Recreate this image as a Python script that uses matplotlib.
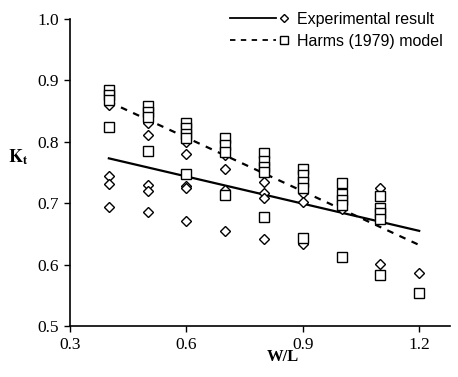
import matplotlib
matplotlib.use("Agg")
import matplotlib.pyplot as plt
from matplotlib.lines import Line2D

# W/L groups and the values
exp_x = [0.4] * 4 + [0.5] * 5 + [0.6] * 5 + [0.7] * 4 + [0.8] * 4 + [0.9] * 3 + [1.0] + [1.1] * 2 + [1.2]
exp_kt = [0.860, 0.744, 0.731, 0.694,
          0.831, 0.811, 0.730, 0.720, 0.686,
          0.800, 0.780, 0.728, 0.724, 0.671,
          0.778, 0.755, 0.721, 0.654,
          0.735, 0.717, 0.708, 0.642,
          0.716, 0.702, 0.634,
          0.690,
          0.724, 0.601,
          0.587]

harms_x = [0.4] * 4 + [0.5] * 4 + [0.6] * 5 + [0.7] * 4 + [0.8] * 5 + [0.9] * 5 + [1.0] * 5 + [1.1] * 5 + [1.2]
harms_kt = [0.884, 0.876, 0.868, 0.824,
            0.858, 0.849, 0.840, 0.785,
            0.831, 0.822, 0.813, 0.806, 0.747,
            0.806, 0.795, 0.784, 0.714,
            0.781, 0.768, 0.759, 0.751, 0.677,
            0.755, 0.746, 0.735, 0.724, 0.644,
            0.733, 0.715, 0.705, 0.697, 0.613,
            0.712, 0.692, 0.684, 0.674, 0.583,
            0.554]

# trend lines (end points)
fit_x = [0.4, 1.2]
exp_fit = [0.773, 0.655]
harms_fit = [0.865, 0.632]

xticks = [0.3, 0.6, 0.9, 1.2]
yticks = [0.5, 0.6, 0.7, 0.8, 0.9, 1.0]


class LineThenMarker:
    def __init__(self, ls, marker, ms):
        self.ls = ls
        self.marker = marker
        self.ms = ms

    def legend_artist(self, legend, orig_handle, fontsize, handlebox):
        x0, y0 = handlebox.xdescent, handlebox.ydescent
        w, h = handlebox.width, handlebox.height
        ln = Line2D([x0, x0 + w * 0.75], [y0 + h / 2] * 2, color="black",
                    ls=self.ls, lw=1.3)
        mk = Line2D([x0 + w * 0.89], [y0 + h / 2], marker=self.marker, ms=self.ms,
                    mfc="none", mec="black", mew=1.0, ls="none")
        handlebox.add_artist(ln)
        handlebox.add_artist(mk)
        return ln


plt.rcParams["mathtext.fontset"] = "stix"
serif = "Liberation Serif"

fig = plt.figure(figsize=(4.58, 3.77), dpi=100)
ax = fig.add_axes([0.153, 0.135, 0.83, 0.815])

ax.plot(exp_x, exp_kt, "D", ms=5.2, mfc="white", mec="black", mew=1.0, ls="none", zorder=3)
ax.plot(harms_x, harms_kt, "s", ms=6.7, mfc="white", mec="black", mew=1.0, ls="none", zorder=3)
h1, = ax.plot(fit_x, exp_fit, color="black", lw=1.6, zorder=2)
h2, = ax.plot(fit_x, harms_fit, color="black", lw=1.6, ls=(0, (3, 3)), zorder=2)

ax.set_xlim(0.3, 1.28)
ax.set_ylim(0.5, 1.0)
ax.set_xticks(xticks)
ax.set_yticks(yticks)
ax.set_xticklabels([f"{v:.1f}" for v in xticks], fontfamily=serif, fontsize=12.5)
ax.set_yticklabels([f"{v:.1f}" for v in yticks], fontfamily=serif, fontsize=12.5)
ax.tick_params(direction="out", length=4, width=1, pad=4)
for s in ["top", "right"]:
    ax.spines[s].set_visible(False)
for s in ["left", "bottom"]:
    ax.spines[s].set_linewidth(1.2)

ax.set_xlabel("W/L", fontfamily=serif, fontweight="bold", fontsize=12, labelpad=0)
ax.xaxis.set_label_coords(0.56, -0.075)
ax.set_ylabel(r"$\mathbf{K_t}$", fontsize=13, rotation=0, va="center", ha="center")
ax.yaxis.set_label_coords(-0.137, 0.55)

leg = fig.legend([h1, h2], ["Experimental result", "Harms (1979) model"],
                 handler_map={h1: LineThenMarker("-", "D", 4.2),
                              h2: LineThenMarker((0, (3, 3)), "s", 5.2)},
                 loc="upper left", bbox_to_anchor=(0.489, 0.985),
                 bbox_transform=fig.transFigure, borderaxespad=0, frameon=False,
                 handlelength=3.8, handletextpad=0.35, labelspacing=0.42,
                 prop={"family": "Liberation Sans", "size": 11.5})

fig.savefig("out.png", dpi=100)
